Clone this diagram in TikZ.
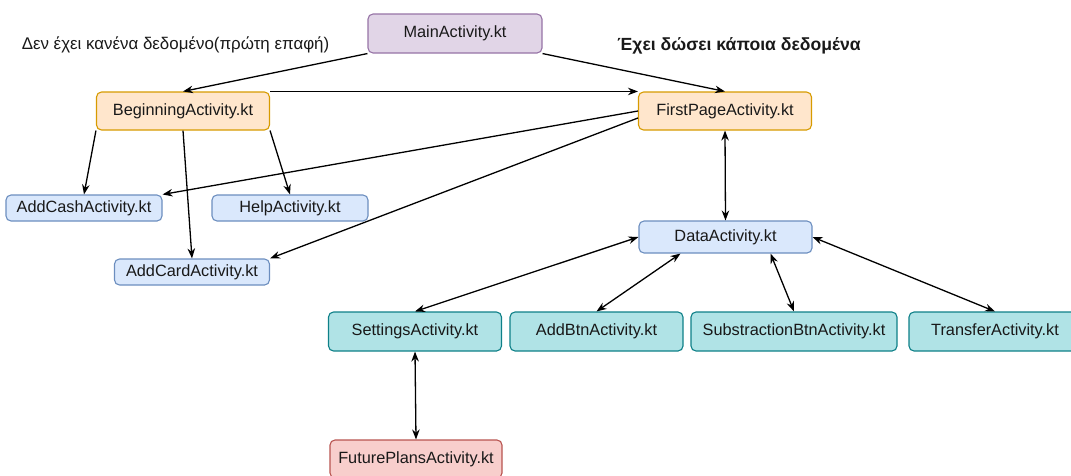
\documentclass[tikz,border=0pt]{standalone}
\usepackage{fontspec}
\setmainfont{Liberation Sans}
\usetikzlibrary{arrows.meta}

\definecolor{mainfill}{HTML}{E1D5E7}
\definecolor{maindraw}{HTML}{9673A6}
\definecolor{pagefill}{HTML}{FFE6CC}
\definecolor{pagedraw}{HTML}{D79B00}
\definecolor{subfill}{HTML}{DAE8FC}
\definecolor{subdraw}{HTML}{6C8EBF}
\definecolor{btnfill}{HTML}{B0E3E6}
\definecolor{btndraw}{HTML}{0E8088}
\definecolor{futfill}{HTML}{F8CECC}
\definecolor{futdraw}{HTML}{B85450}

\begin{document}
\begin{tikzpicture}[x=1pt, y=-1pt, line width=1.3pt,
    >={Stealth[length=10pt,width=7.5pt]},
    box/.style={draw, rounded corners=5pt, inner sep=0pt, line width=1.1pt,
        minimum width=173pt, minimum height=38pt, text=black!90,
        font=\fontsize{16.3}{19}\selectfont},
    mainbox/.style={box, fill=mainfill, draw=maindraw},
    pagebox/.style={box, fill=pagefill, draw=pagedraw},
    subbox/.style={box, fill=subfill, draw=subdraw, minimum width=156pt, minimum height=26pt},
    btnbox/.style={box, fill=btnfill, draw=btndraw},
    futbox/.style={box, fill=futfill, draw=futdraw},
    note/.style={text=black!90, font=\fontsize{16.9}{19}\selectfont}]

    \useasboundingbox (0,0) rectangle (1071,475);

    \node[mainbox, minimum width=174pt, minimum height=39pt] (MA) at (455,33.5) {MainActivity.kt};
    \node[note] (noData) at (175.5,45) {Δεν έχει κανένα δεδομένο(πρώτη επαφή)};
    \node[note, font=\fontsize{17.6}{19}\selectfont\bfseries] (hasData) at (739,46) {Έχει δώσει κάποια δεδομένα};

        \node[pagebox] (BA) at (183,111) {BeginningActivity.kt};
        \node[pagebox] (FPA) at (725,111) {FirstPageActivity.kt};

        \node[subbox] (ACash) at (84,208) {AddCashActivity.kt};
        \node[subbox] (HA) at (290,208) {HelpActivity.kt};
        \node[subbox, minimum width=155pt] (ACard) at (192,272) {AddCardActivity.kt};

        \node[subbox, minimum width=173pt, minimum height=32pt] (DA) at (725.5,237) {DataActivity.kt};

        \node[btnbox, minimum height=39pt] (SA) at (415,331.5) {SettingsActivity.kt};
        \node[btnbox, minimum height=39pt] (ABA) at (596.5,331.5) {AddBtnActivity.kt};
        \node[btnbox, minimum height=39pt, minimum width=206pt] (SBA) at (794,331.5) {SubstractionBtnActivity.kt};
        \node[btnbox, minimum height=39pt, minimum width=172pt] (TA) at (995,331.5) {TransferActivity.kt};

        \node[futbox, minimum width=172pt] (FPl) at (416,459) {FuturePlansActivity.kt};


        \draw[->] (MA.south west) -- (BA.north);
        \draw[->] (MA.south east) -- (FPA.north);
        \draw[->] (BA.north east) -- (FPA.north west);

        \draw[->] (BA.south west) -- (ACash.north);
        \draw[->] (BA.south) -- (ACard.north);
        \draw[->] (BA.south east) -- (HA.north);

        \draw[->] (FPA.west) -- (ACash.north east);
        \draw[->] ([yshift=-7pt]FPA.west) -- (ACard.north east);

        \draw[<->] (FPA.south) -- (DA.north);

        \draw[<->] (DA.west) -- (SA.north);
        \draw[<->] ([xshift=-45pt]DA.south) -- (ABA.north);
        \draw[<->] ([xshift=45pt]DA.south) -- (SBA.north);
        \draw[<->] (DA.east) -- (TA.north);

        \draw[<->] (SA.south) -- (FPl.north);

\end{tikzpicture}
\end{document}
